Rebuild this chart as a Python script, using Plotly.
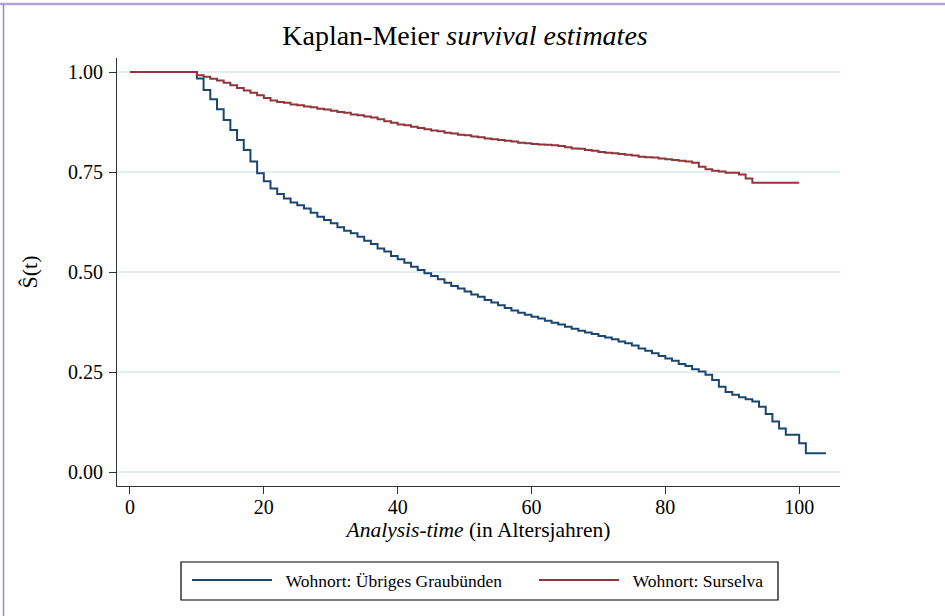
import plotly.graph_objects as go

# Kaplan-Meier step estimates, by place of residence
time_graubuenden = [0, 10, 11, 12, 13, 14, 15, 16, 17, 18, 19, 20, 21, 22, 23, 24, 25, 26, 27, 28, 29,
                    30, 31, 32, 33, 34, 35, 36, 37, 38, 39, 40, 41, 42, 43, 44, 45, 46, 47, 48, 49,
                    50, 51, 52, 53, 54, 55, 56, 57, 58, 59, 60, 61, 62, 63, 64, 65, 66, 67, 68, 69,
                    70, 71, 72, 73, 74, 75, 76, 77, 78, 79, 80, 81, 82, 83, 84, 85, 86, 87, 88, 89,
                    90, 91, 92, 93, 94, 95, 96, 97, 98, 100, 101, 104]
surv_graubuenden = [1.0, 0.984, 0.955, 0.932, 0.907, 0.880, 0.855, 0.830, 0.805, 0.776, 0.747,
                    0.727, 0.709, 0.695, 0.684, 0.674, 0.667, 0.659, 0.648, 0.638, 0.630,
                    0.622, 0.612, 0.603, 0.597, 0.588, 0.578, 0.570, 0.559, 0.551, 0.540,
                    0.532, 0.523, 0.513, 0.505, 0.497, 0.490, 0.482, 0.473, 0.465, 0.459,
                    0.451, 0.444, 0.438, 0.430, 0.424, 0.417, 0.410, 0.404, 0.398, 0.393,
                    0.388, 0.384, 0.378, 0.373, 0.369, 0.363, 0.358, 0.353, 0.349, 0.345,
                    0.340, 0.336, 0.332, 0.326, 0.322, 0.316, 0.309, 0.303, 0.297, 0.290,
                    0.284, 0.278, 0.270, 0.265, 0.257, 0.251, 0.243, 0.230, 0.213, 0.200,
                    0.193, 0.187, 0.182, 0.176, 0.163, 0.145, 0.126, 0.109, 0.093, 0.072,
                    0.047, 0.047]

time_surselva = [0, 10, 11, 12, 13, 14, 15, 16, 17, 18, 19, 20, 21, 22, 23, 24, 25, 26, 27, 28, 29,
                 30, 31, 32, 33, 34, 35, 36, 37, 38, 39, 40, 41, 42, 43, 44, 45, 46, 47, 48, 49,
                 50, 51, 52, 53, 54, 55, 56, 57, 58, 59, 60, 61, 62, 63, 64, 65, 66, 67, 68, 69,
                 70, 71, 72, 73, 74, 75, 76, 77, 78, 79, 80, 81, 82, 83, 84, 85, 86, 87, 88, 89,
                 91, 92, 93, 100]
surv_surselva = [1.0, 0.992, 0.988, 0.983, 0.979, 0.973, 0.967, 0.960, 0.954, 0.948, 0.942,
                 0.935, 0.929, 0.925, 0.923, 0.919, 0.917, 0.914, 0.912, 0.908, 0.906,
                 0.903, 0.900, 0.898, 0.894, 0.892, 0.889, 0.886, 0.882, 0.877, 0.873,
                 0.869, 0.867, 0.863, 0.860, 0.857, 0.854, 0.852, 0.848, 0.846, 0.843,
                 0.842, 0.839, 0.837, 0.834, 0.832, 0.830, 0.828, 0.826, 0.823, 0.822,
                 0.820, 0.819, 0.818, 0.817, 0.815, 0.812, 0.809, 0.808, 0.805, 0.803,
                 0.800, 0.798, 0.797, 0.795, 0.793, 0.791, 0.788, 0.787, 0.786, 0.784,
                 0.782, 0.780, 0.778, 0.776, 0.773, 0.763, 0.757, 0.753, 0.751, 0.748,
                 0.744, 0.734, 0.723, 0.723]

y_ticks = [0.0, 0.25, 0.5, 0.75, 1.0]
y_ticklabels = ["0.00", "0.25", "0.50", "0.75", "1.00"]
x_ticks = [0, 20, 40, 60, 80, 100]

label_graubuenden = "Wohnort: Übriges Graubünden"
label_surselva = "Wohnort: Surselva"

BLUE = "#1a476f"
RED = "#90353b"
GRID = "#e2eef0"
AXIS = "#333333"
SERIF = "Liberation Serif, Times New Roman, serif"
GAP = "\u00a0\u00a0"  # extra space between legend key line and its label

W, H = 945, 616
ML, MR, MT, MB = 117, 105, 58, 130
PW, PH = W - ML - MR, H - MT - MB


def px_x(p):
    return (p - ML) / PW


def px_y(p):
    return (H - MB - p) / PH


fig = go.Figure()
fig.add_trace(go.Scatter(x=time_graubuenden, y=surv_graubuenden, mode="lines",
                         line=dict(color=BLUE, width=2, shape="hv"),
                         name=GAP + label_graubuenden, legend="legend"))
fig.add_trace(go.Scatter(x=time_surselva, y=surv_surselva, mode="lines",
                         line=dict(color=RED, width=2, shape="hv"),
                         name=GAP + label_surselva, legend="legend2"))

# thin lavender frame along the top and left edges of the page
frame = "#b3a4d6"
fig.add_shape(type="line", xref="paper", yref="paper",
              x0=px_x(0), x1=px_x(W), y0=px_y(4), y1=px_y(4),
              line=dict(color=frame, width=2.5))
fig.add_shape(type="line", xref="paper", yref="paper",
              x0=px_x(3.5), x1=px_x(3.5), y0=px_y(4), y1=px_y(H),
              line=dict(color="#9c86cf", width=1.5))

# box enclosing both legend entries
fig.add_shape(type="rect", xref="paper", yref="paper",
              x0=px_x(181), x1=px_x(778), y0=px_y(600), y1=px_y(562),
              line=dict(color="black", width=1.2), fillcolor="rgba(0,0,0,0)")

legend_style = dict(orientation="h", xref="container", xanchor="left",
                    y=1 - 562 / H, yref="container", yanchor="top",
                    borderwidth=0, bgcolor="rgba(0,0,0,0)",
                    font=dict(family=SERIF, size=17.5, color="black"),
                    itemwidth=80)

fig.update_layout(
    width=W, height=H,
    margin=dict(l=ML, r=MR, t=MT, b=MB, autoexpand=False),
    paper_bgcolor="white", plot_bgcolor="white",
    font=dict(family=SERIF, color="black"),
    title=dict(text="Kaplan-Meier <i>survival estimates</i>",
               font=dict(family=SERIF, size=28, color="black"),
               x=px_x(465), xref="paper", xanchor="center",
               y=1 - 35 / H, yref="container", yanchor="middle"),
    showlegend=True,
    legend=dict(legend_style, x=187 / W),
    legend2=dict(legend_style, x=534 / W),
    xaxis=dict(range=[-1.94, 106.1], tickvals=x_ticks,
               ticks="outside", ticklen=7, tickcolor=AXIS, tickwidth=1,
               ticklabelstandoff=-4,
               showline=True, linecolor=AXIS, linewidth=1.2, mirror=False,
               showgrid=False, zeroline=False,
               tickfont=dict(family=SERIF, size=20, color="black"),
               title=dict(text="<i>Analysis-time</i> (in Altersjahren)",
                          font=dict(family=SERIF, size=21.5, color="black"),
                          standoff=0)),
    yaxis=dict(range=[-0.035, 1.035], tickvals=y_ticks, ticktext=y_ticklabels,
               ticks="outside", ticklen=7, tickcolor=AXIS, tickwidth=1,
               ticklabelstandoff=2,
               showline=True, linecolor=AXIS, linewidth=1.2, mirror=False,
               showgrid=True, gridcolor=GRID, gridwidth=1.5, zeroline=False,
               tickfont=dict(family=SERIF, size=20, color="black"),
               title=dict(text="Ŝ(t)",
                          font=dict(family=SERIF, size=22, color="black"),
                          standoff=24)),
)

fig.write_html("out.html")
